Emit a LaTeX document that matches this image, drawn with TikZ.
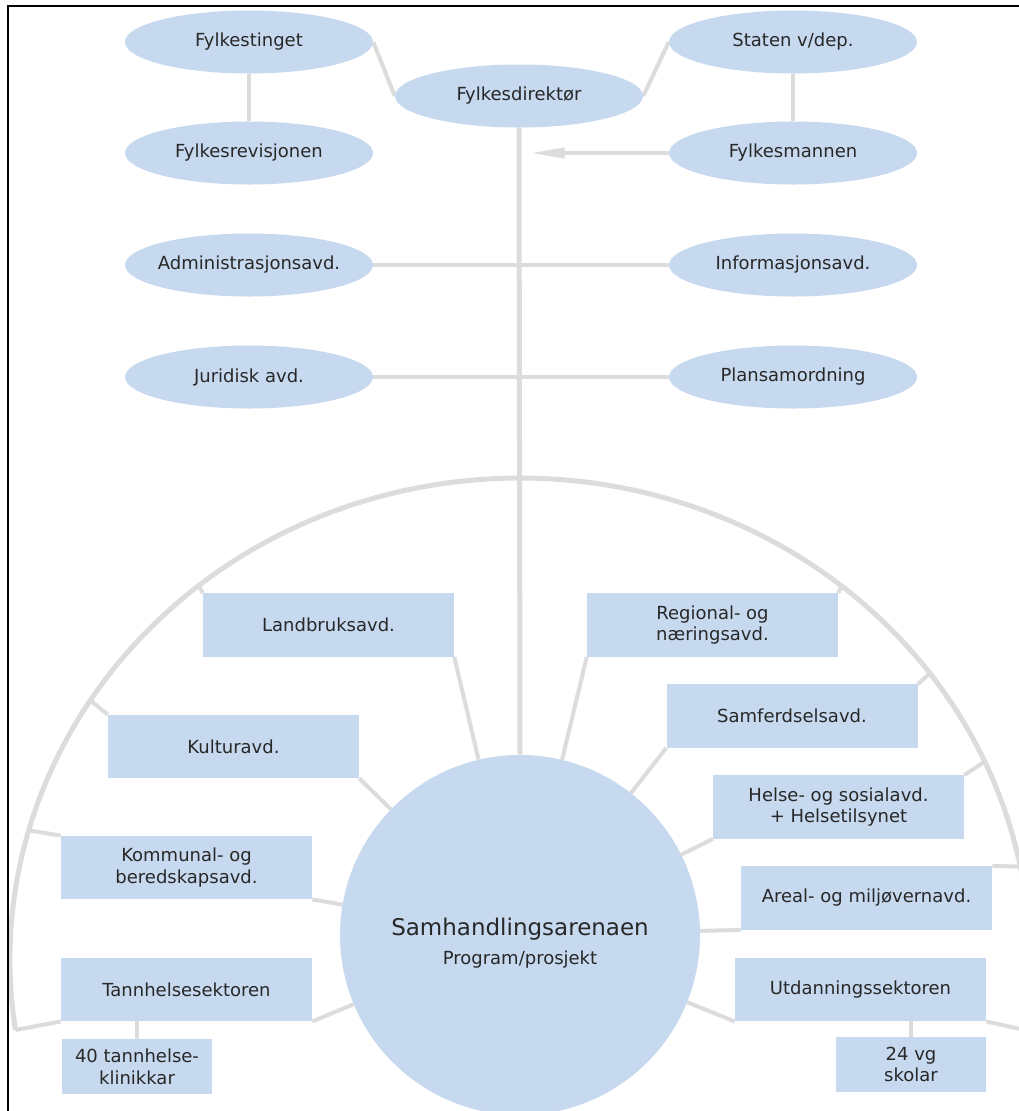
\documentclass[tikz,border=0pt]{standalone}
\usepackage{fontspec}
\setmainfont{DejaVu Sans}
\usetikzlibrary{shapes.geometric,arrows.meta,calc}
\definecolor{boxblue}{RGB}{198,217,239}
\definecolor{linegray}{RGB}{220,220,220}
\definecolor{txtgray}{RGB}{40,40,40}
\pgfdeclarelayer{background}
\pgfsetlayers{background,main}
\begin{document}
\begin{tikzpicture}[x=0.75pt,y=0.75pt,
  every node/.style={text=txtgray, font=\fontsize{13.5}{16.3}\selectfont},
  oval/.style={ellipse, fill=boxblue, minimum width=186pt, minimum height=47.25pt, inner xsep=-30pt, inner ysep=0pt},
  dept/.style={rectangle, fill=boxblue, minimum width=188.25pt, minimum height=47.5pt, inner sep=0pt, align=center},
  unitbox/.style={rectangle, fill=boxblue, minimum width=112.5pt, minimum height=41.25pt, inner sep=0pt, align=center},
  link/.style={draw=linegray, line width=3pt},
  trunk/.style={draw=linegray, line width=3.75pt},
  arcline/.style={draw=linegray, line width=3.75pt},
]
\useasboundingbox (0,0) rectangle (1019,-1111);
\clip (0,0) rectangle (1019,-1111);

% top ellipses
\node[oval] (fting) at (249,-42) {Fylkestinget};
\node[oval] (fdir) at (519,-96) {Fylkesdirektør};
\node[oval] (staten) at (793,-42) {Staten v/dep.};
\node[oval] (frev) at (249,-153) {Fylkesrevisjonen};
\node[oval] (fmann) at (793,-153) {Fylkesmannen};
\node[oval] (adm) at (249,-265) {Administrasjonsavd.};
\node[oval] (info) at (793,-265) {Informasjonsavd.};
\node[oval] (jur) at (249,-377) {Juridisk avd.};
\node[oval] (plan) at (793,-377) {Plansamordning};

% central circle
\node[circle, fill=boxblue, minimum size=270pt, inner sep=0pt] (sam) at (520,-935) {};
\node[anchor=base, font=\fontsize{17.25}{20}\selectfont] (samtxt) at (520,-935.7) {Samhandlingsarenaen};
\node[anchor=base] (samsub) at (520,-964) {Program/prosjekt};

% departments
\node[dept] (landbruk) at (328.5,-625) {Landbruksavd.};
\node[dept] (kultur) at (233.5,-746.5) {Kulturavd.};
\node[dept] (kommunal) at (186.5,-867.5) {Kommunal- og\\beredskapsavd.};
\node[dept] (tann) at (186.5,-989.5) {Tannhelsesektoren};
\node[unitbox] (klinikk) at (137,-1066.5) {40 tannhelse-\\klinikkar};
\node[dept] (regional) at (712.5,-625) {Regional- og\\næringsavd.};
\node[dept] (samf) at (792,-716) {Samferdselsavd.};
\node[dept] (helse) at (838.5,-807) {Helse- og sosialavd.\\+ Helsetilsynet};
\node[dept] (areal) at (866.5,-898) {Areal- og miljøvernavd.};
\node[dept] (utd) at (860.5,-989.5) {Utdanningssektoren};
\node[unitbox] (skolar) at (911,-1064.5) {24 vg\\skolar};

\coordinate (arrtip) at (530,-153);
\coordinate (ec) at (520,-960);
\path (ec) ++(129:510 and 482) coordinate (t1);
\path (ec) ++(147.4:510 and 482) coordinate (t2);
\path (ec) ++(164.4:510 and 482) coordinate (t3);
\path (ec) ++(188.35:510 and 482) coordinate (t4);
\path (ec) ++(50.9:510 and 482) coordinate (t5);
\path (ec) ++(36.5:510 and 482) coordinate (t6);
\path (ec) ++(24.3:510 and 482) coordinate (t7);
\path (ec) ++(11.2:510 and 482) coordinate (t8);
\path (ec) ++(-8.35:510 and 482) coordinate (t9);

\begin{pgfonlayer}{background}
\fill[white] (0,0) rectangle (1019,-1111);
% big arc
\draw[arcline] (t4) arc[start angle=188.35, end angle=-8.35, x radius=510, y radius=482];
% ticks to arc
\draw[link] (landbruk.north west) -- (t1);
\draw[link] (kultur.north west) -- (t2);
\draw[link] (kommunal.north west) -- (t3);
\draw[link] (tann.south west) -- (t4);
\draw[link] (regional.north east) -- (t5);
\draw[link] (samf.north east) -- (t6);
\draw[link] (helse.north east) -- (t7);
\draw[link] (areal.north east) -- (t8);
\draw[link] (utd.south east) -- (t9);
% to circle
\draw[link] (landbruk.south east) -- (sam);
\draw[link] (kultur.south east) -- (sam);
\draw[link] (kommunal.south east) -- (sam);
\draw[link] (tann.south east) -- (sam);
\draw[link] (regional.south west) -- (sam);
\draw[link] (samf.south west) -- (sam);
\draw[link] (helse.south west) -- (sam);
\draw[link] (areal.south west) -- (sam);
\draw[link] (utd.south west) -- (sam);
% sub units
\draw[link] (klinikk.north) -- (klinikk.north |- tann.south);
\draw[link] (skolar.north) -- (skolar.north |- utd.south);
% top
\draw[link] (fting) -- (frev);
\draw[link] (staten) -- (fmann);
\draw[link] (fting.east) -- (fdir.west);
\draw[link] (fdir.east) -- (staten.west);
\draw[link] (adm) -- (info);
\draw[link] (jur) -- (plan);
\draw[trunk] (fdir.south) -- (sam.north);
\draw[link, -{Triangle[length=26pt,width=7.5pt]}] (fmann.west) -- (arrtip);
\end{pgfonlayer}

% frame
\draw[black, line width=1.6pt] (8,-1130) -- (8,-6) -- (1040,-6);
\end{tikzpicture}
\end{document}
